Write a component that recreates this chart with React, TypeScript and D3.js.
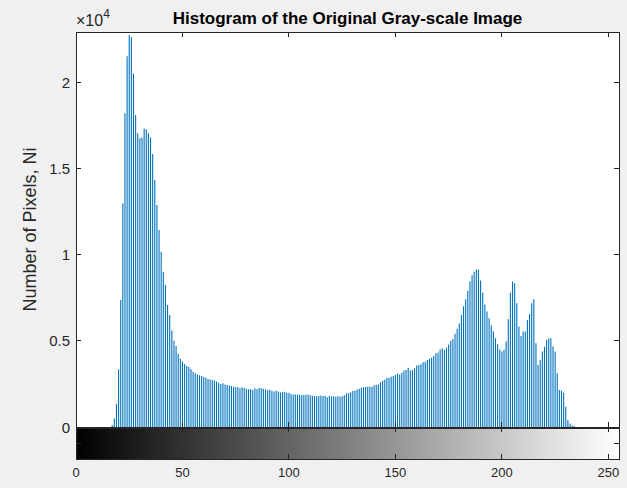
import React from 'react';
import * as d3 from 'd3';

// Pixel counts per gray level (0..255), split in four blocks of 64 levels
const countsDark: number[] = [
  0, 0, 0, 0, 0, 0, 0, 0, 0, 0, 0, 0, 0, 0, 0, 0,
  0, 120, 500, 1330, 3340, 7360, 12970, 18190, 21500, 22720, 22590, 20500, 18090, 17030, 16740, 16790,
  17310, 17260, 17030, 16790, 15830, 14320, 12870, 11420, 10160, 9000, 8230, 7070, 6490, 5600, 5000, 4700,
  4250, 3950, 3800, 3650, 3550, 3500, 3350, 3200, 3120, 3050, 3000, 2950, 2900, 2850, 2780, 2750,
];
const countsMid: number[] = [
  2720, 2690, 2630, 2570, 2500, 2530, 2470, 2430, 2400, 2380, 2340, 2300, 2320, 2250, 2300, 2260,
  2220, 2190, 2200, 2150, 2240, 2190, 2260, 2240, 2220, 2180, 2150, 2160, 2100, 2060, 2100, 2060,
  2000, 2020, 2050, 1990, 1990, 1920, 1880, 1890, 1880, 1870, 1860, 1860, 1870, 1890, 1840, 1810,
  1790, 1780, 1790, 1830, 1790, 1810, 1730, 1790, 1780, 1780, 1760, 1780, 1760, 1780, 1840, 1950,
];
const countsLight: number[] = [
  1960, 2010, 2080, 2100, 2180, 2220, 2280, 2300, 2320, 2340, 2340, 2340, 2420, 2440, 2460, 2590,
  2680, 2740, 2860, 2840, 2920, 2960, 3030, 3110, 3040, 3150, 3270, 3300, 3440, 3270, 3300, 3400,
  3560, 3600, 3640, 3750, 3790, 3880, 3950, 4020, 4120, 4280, 4320, 4500, 4560, 4470, 4600, 4790,
  5000, 5100, 5400, 5700, 6000, 6500, 7000, 7400, 7900, 8450, 8800, 9000, 9150, 9120, 8500, 7800,
];
const countsBright: number[] = [
  7100, 6700, 6300, 5900, 5550, 5150, 4800, 4500, 4370, 4480, 4950, 6250, 7790, 8430, 8330, 7170,
  5820, 5280, 5530, 5530, 6200, 6550, 7170, 7400, 4850, 3600, 3880, 4370, 4660, 5040, 5140, 5140,
  4660, 4370, 3110, 2150, 2100, 1990, 1180, 410, 210, 80, 40, 0, 0, 0, 0, 0,
  0, 0, 0, 0, 0, 0, 0, 0, 0, 0, 0, 0, 0, 0, 0, 0,
];

const xTicks = [0, 50, 100, 150, 200, 250];
const yTicks = [0, 5000, 10000, 15000, 20000];
const yTickLabels = ['0', '0.5', '1', '1.5', '2'];

const titleText = 'Histogram of the Original Gray-scale Image';
const yLabelText = 'Number of Pixels, Ni';

const W = 627;
const H = 488;
const left = 76;
const right = 619;
const top = 32;
const histBottom = 427;
const barBottom = 459;
const font = '"Liberation Sans", Arial, Helvetica, sans-serif';
const axisColor = '#262626';
const stemColor = '#0072BD';

export default function App() {
  const counts = [...countsDark, ...countsMid, ...countsLight, ...countsBright];
  const x = d3.scaleLinear().domain([0, 255]).range([left, right]);
  const y = d3.scaleLinear().domain([0, 22900]).range([histBottom, top]);
  const tl = 5;

  return (
    <svg
      width={W}
      height={H}
      style={{ position: 'fixed', left: 0, top: 0, background: '#f0f0f0' }}
      fontFamily={font}
    >
      <defs>
        <linearGradient id="grayRamp" x1="0" x2="1" y1="0" y2="0">
          <stop offset="0" stopColor="#000" />
          <stop offset="1" stopColor="#fff" />
        </linearGradient>
      </defs>
      <rect x={0} y={0} width={W} height={H} fill="#f0f0f0" />
      <rect x={left} y={top} width={right - left} height={histBottom - top} fill="#fff" />

      {/* stems */}
      <g stroke={stemColor} strokeWidth={1.1}>
        {counts.map((v, i) =>
          v > 0 ? <line key={i} x1={x(i)} x2={x(i)} y1={y(0)} y2={y(v)} /> : null
        )}
      </g>

      {/* hist axes box & ticks */}
      <g stroke={axisColor} strokeWidth={1} fill="none" shapeRendering="crispEdges">
        <rect x={left} y={top} width={right - left} height={histBottom - top} />
        {xTicks.map((t) => (
          <g key={'xt' + t}>
            <line x1={x(t)} x2={x(t)} y1={top} y2={top + tl} />
            <line x1={x(t)} x2={x(t)} y1={histBottom} y2={histBottom - tl} />
          </g>
        ))}
        {yTicks.map((t) => (
          <g key={'yt' + t}>
            <line x1={left} x2={left + tl} y1={y(t)} y2={y(t)} />
            <line x1={right} x2={right - tl} y1={y(t)} y2={y(t)} />
          </g>
        ))}
      </g>

      {/* colorbar */}
      <rect x={left} y={histBottom} width={right - left} height={barBottom - histBottom} fill="url(#grayRamp)" />
      <g stroke={axisColor} strokeWidth={1} fill="none" shapeRendering="crispEdges">
        <rect x={left} y={histBottom} width={right - left} height={barBottom - histBottom} />
        <line x1={left} x2={right} y1={histBottom + 1} y2={histBottom + 1} />
        {xTicks.map((t) => (
          <g key={'cb' + t}>
            <line x1={x(t)} x2={x(t)} y1={histBottom} y2={histBottom + tl} />
            <line x1={x(t)} x2={x(t)} y1={barBottom} y2={barBottom - tl} />
          </g>
        ))}
        <line x1={left} x2={left + tl} y1={(histBottom + barBottom) / 2} y2={(histBottom + barBottom) / 2} />
        <line x1={right} x2={right - tl} y1={(histBottom + barBottom) / 2} y2={(histBottom + barBottom) / 2} />
      </g>

      {/* x tick labels */}
      <g fill={axisColor} fontSize={13} textAnchor="middle">
        {xTicks.map((t) => (
          <text key={'xl' + t} x={x(t)} y={477}>
            {t}
          </text>
        ))}
      </g>

      {/* y tick labels */}
      <g fill={axisColor} fontSize={15} textAnchor="end">
        {yTicks.map((t, i) => (
          <text key={'yl' + t} x={left - 6} y={y(t) + 5.5}>
            {yTickLabels[i]}
          </text>
        ))}
      </g>

      {/* exponent */}
      <text x={left} y={26} fontSize={16} fill={axisColor}>
        ×10<tspan fontSize={12} dy={-8}>4</tspan>
      </text>

      {/* title */}
      <text x={(left + right) / 2} y={23.5} textAnchor="middle" fontSize={17} fontWeight="bold" fill="#000">
        {titleText}
      </text>

      {/* y label */}
      <text
        transform={`translate(36, ${(top + histBottom) / 2}) rotate(-90)`}
        textAnchor="middle"
        fontSize={18}
        fill={axisColor}
      >
        {yLabelText}
      </text>
    </svg>
  );
}
